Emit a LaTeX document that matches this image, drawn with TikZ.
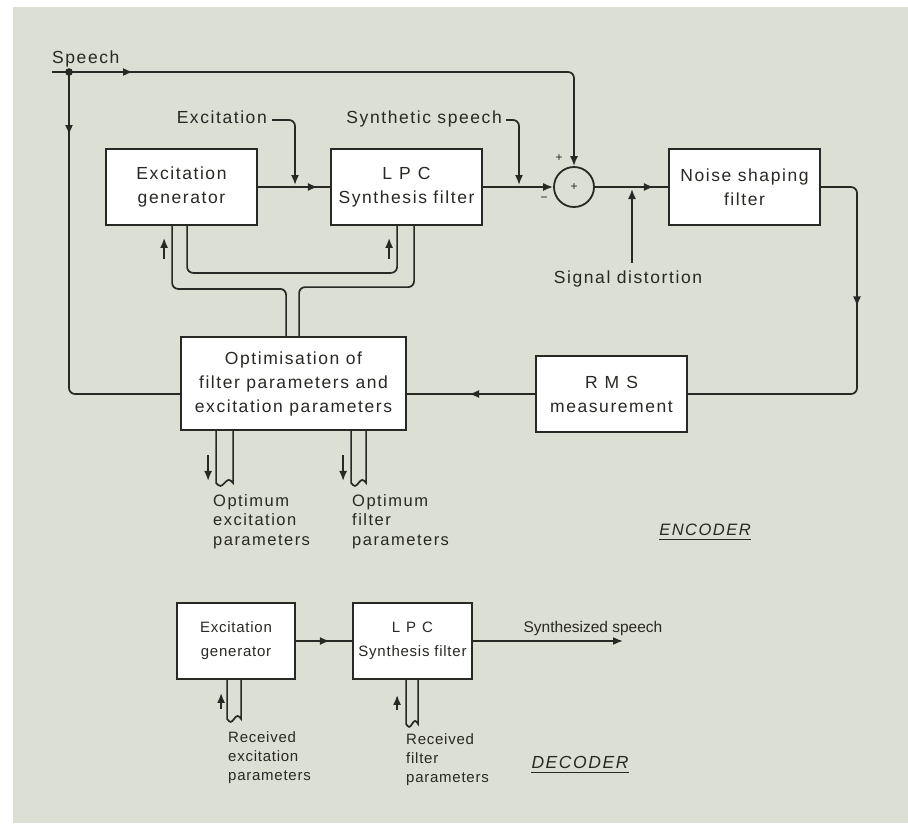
\documentclass[tikz,border=0pt]{standalone}
\usepackage{fontspec}
\setmainfont{Liberation Sans}[LetterSpace=9]
\usetikzlibrary{arrows.meta,decorations.markings,calc}
\definecolor{paper}{RGB}{220,223,212}
\definecolor{ink}{RGB}{40,40,36}
\newcommand\boxfont{\fontsize{17.5}{24}\selectfont}
\newcommand\decfont{\addfontfeature{LetterSpace=5}\fontsize{15}{24}\selectfont}
\newcommand\lblfont{\fontsize{16.5}{19.5}\selectfont}
\newcommand\declblfont{\addfontfeature{LetterSpace=5}\fontsize{15}{19}\selectfont}
\newcommand\busout[4]{%
  \draw[wire,rounded corners=0pt] (#1) ++(#2,0) -- ++(0,#4)
     sin ++(#3/4,3) cos ++(#3/4,-3) sin ++(#3/4,-3) cos ++(#3/4,3) -- ++(0,-#4);}
\begin{document}
\begin{tikzpicture}[x=1pt,y=-1pt,
  ar/.tip={Latex[length=10pt,width=8pt]},
  wire/.style={draw=ink,line width=1.7pt,rounded corners=6pt},
  blk/.style={draw=ink,line width=1.8pt,fill=white,minimum width=151pt,minimum height=76pt,
              align=center,font=\boxfont,text=ink,inner sep=2pt},
  lbl/.style={text=ink,font=\boxfont,inner sep=0pt},
  note/.style={text=ink,font=\lblfont,align=left,inner sep=0pt,anchor=north west},
  sign/.style={text=ink,font=\fontsize{12}{12}\selectfont,inner sep=0pt},
  title/.style={text=ink,font=\fontsize{16.5}{16}\selectfont\itshape,inner sep=0pt,anchor=base},
  midarr/.style={postaction={decorate,decoration={markings,mark=at position #1 with {\arrow{ar}}}}},
]
\useasboundingbox (0,0) rectangle (908,823);
\fill[white] (0,0) rectangle (908,823);
\fill[paper] (13,7) rectangle (908,823);

% ---------------- ENCODER ----------------
\node[blk] (eg) at (181.5,187) {Excitation\\generator};
\node[blk] (lpc) at (406.5,187) {{\addfontfeature{LetterSpace=40}LPC}\\Synthesis filter};
\node[draw=ink,line width=1.8pt,circle,minimum size=40pt,inner sep=0pt] (sum) at (574,187) {};
\node[sign] (pc) at (sum.center) {+};
\node[sign] (pa) at (559,158) {+};
\node[sign] (mi) at (544,199) {−};
\node[blk] (nsf) at (744.5,187) {Noise shaping\\filter};
\node[blk] (rms) at (611.5,394) {{\addfontfeature{LetterSpace=40}RMS}\\measurement};
\node[blk,minimum width=225pt,minimum height=93pt] (opt) at (293.5,383.5)
  {Optimisation of\\filter parameters and\\excitation parameters};

\node[lbl,anchor=base west] (spl) at (52,63) {Speech};
\node[lbl,anchor=base east] (exl) at (267,123) {Excitation};
\node[lbl,anchor=base east] (ssl) at (502,123) {Synthetic speech};
\node[lbl,anchor=base] (sdl) at (628,283) {Signal distortion};

\coordinate (spin) at (52,72);
\coordinate (dot) at (69,72);
\coordinate (exj) at (295,185);
\coordinate (ssj) at (519,185);
\coordinate (sdb) at (632,263);
\coordinate (sdt) at (632,189);
\coordinate (rc) at (857,394);

% speech input
\draw[wire,-ar,midarr=81pt] (spin) -| (sum.north);
\fill[ink] (dot) circle (3.8pt);
\draw[wire,midarr=63pt] (dot) |- (opt.west |- rms.west);

% excitation / synthetic speech taps
\draw[wire,-ar] ([xshift=5pt,yshift=3pt]exl.base east) -| (exj);
\draw[wire,-ar] ([xshift=4pt,yshift=3pt]ssl.base east) -| (ssj);

% main chain
\draw[wire,midarr=60pt] (eg.east) -- (eg.east -| lpc.west);
\draw[wire,-ar] (lpc.east) -- (sum.west);
\draw[wire,midarr=59pt] (sum.east) -- (sum.east -| nsf.west);
\draw[wire,-ar] (sdb) -- (sdt);
\draw[wire,midarr=153pt] (nsf.east) -| (rc) -- (rms.east);
\draw[wire,midarr=66pt] (rms.west) -- (rms.west -| opt.east);

% parameter buses
\draw[wire] (eg.south west) ++(67,0) -- ++(0,63) -| ($(opt.north west)+(106,0)$);
\draw[wire] ($(opt.north west)+(119,0)$) -- ++(0,-49) -| ($(lpc.south west)+(84,0)$);
\draw[wire] (eg.south west) ++(82,0) -- ++(0,47) -| ($(lpc.south west)+(67,0)$);
\draw[wire,-ar] (eg.south west) ++(59,33) -- ++(0,-21);
\draw[wire,-ar] (lpc.south west) ++(59,33) -- ++(0,-21);

\busout{opt.south west}{36}{17}{52}
\busout{opt.south west}{171}{15}{52}
\draw[wire,-ar] (opt.south west) ++(28,24) -- ++(0,26);
\draw[wire,-ar] (opt.south west) ++(163,24) -- ++(0,26);

\node[note] (oex) at (213,494) {Optimum\\excitation\\parameters};
\node[note] (ofi) at (352,494) {Optimum\\filter\\parameters};

\node[title] (enc) at (705,535) {ENCODER};
\draw[ink,line width=1.4pt] ([yshift=-4.5pt]enc.base west) -- ([yshift=-4.5pt]enc.base east);

% ---------------- DECODER ----------------
\node[blk,minimum width=118pt,font=\decfont] (deg) at (236,641) {Excitation\\generator};
\node[blk,minimum width=119pt,font=\decfont] (dlpc) at (412.5,641) {{\addfontfeature{LetterSpace=40}LPC}\\Synthesis filter};
\coordinate (dout) at (623,641);
\draw[wire,midarr=34pt] (deg.east) -- (dlpc.west);
\draw[wire,-ar] (dlpc.east) -- (dout);
\node[lbl,anchor=base,font=\addfontfeature{LetterSpace=0}\fontsize{15.5}{19}\selectfont] (ssy) at (593,632) {Synthesized speech};

\busout{deg.south west}{51}{14}{39}
\busout{dlpc.south west}{54}{12}{44}
\draw[wire,-ar] (deg.south west) ++(45,29) -- ++(0,-16);
\draw[wire,-ar] (dlpc.south west) ++(45,30) -- ++(0,-15);

\node[note,font=\declblfont] (rex) at (228,731) {Received\\excitation\\parameters};
\node[note,font=\declblfont] (rfi) at (406,733) {Received\\filter\\parameters};

\node[title,font=\fontsize{17.5}{17}\selectfont\itshape] (dec) at (580,768) {DECODER};
\draw[ink,line width=1.4pt] ([yshift=-4.5pt]dec.base west) -- ([yshift=-4.5pt]dec.base east);
\end{tikzpicture}
\end{document}
